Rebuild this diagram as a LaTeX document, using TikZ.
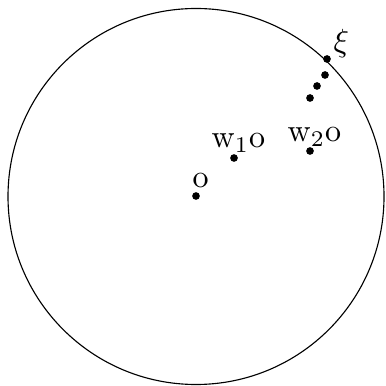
\documentclass[tikz,border=0pt]{standalone}
\begin{document}
\begin{tikzpicture}[x=0.3125pt,y=-0.3125pt,
  pt/.style={circle,fill=black,inner sep=0pt,minimum size=2.4pt},
  lbl/.style={inner sep=0pt,anchor=base west}]
\useasboundingbox (0,0) rectangle (385,386);
\node[circle,draw,line width=0.35pt,minimum size=376*0.3125pt,inner sep=0pt] (C) at (196,196.5) {};
\node[pt] (o) at (196,196) {};
\node[pt] (w1) at (234,158) {};
\node[pt] (w2) at (310,151) {};
\node[pt] (d1) at (310,98) {};
\node[pt] (d2) at (317,86) {};
\node[pt] (d3) at (325,75) {};
\node[pt] (xi) at (327,59) {};
\node[lbl] (lo) at (192,188) {o};
\node[lbl] (lw1) at (211,148) {$\mathrm{w}_1\mathrm{o}$};
\node[lbl] (lw2) at (287,142) {$\mathrm{w}_2\mathrm{o}$};
\node[lbl] (lxi) at (333,52) {$\xi$};
\end{tikzpicture}
\end{document}
